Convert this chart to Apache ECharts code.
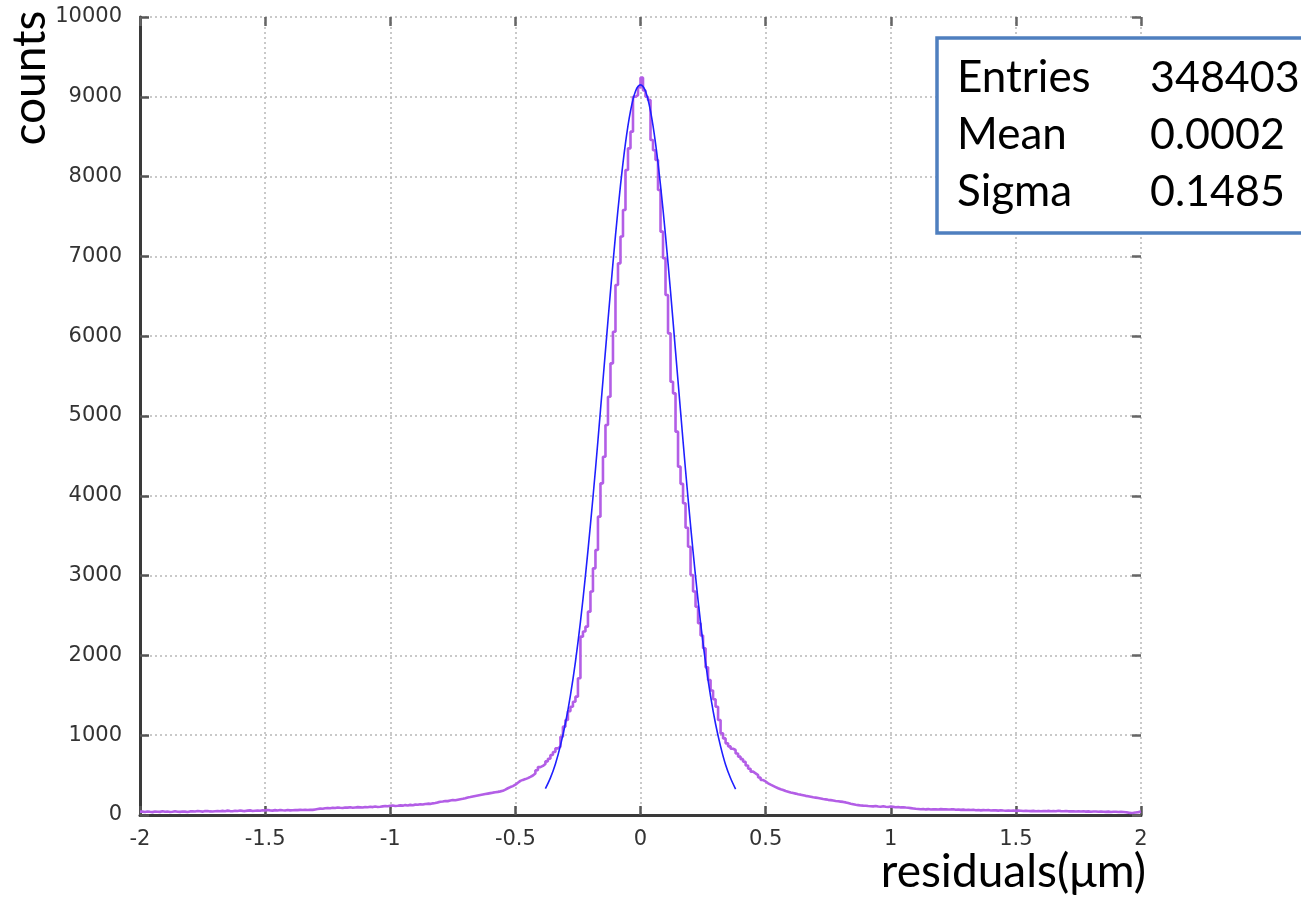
<!DOCTYPE html>
<html>
<head>
<meta charset="utf-8">
<script src="https://cdn.jsdelivr.net/npm/echarts@6/dist/echarts.min.js"></script>
<style>
  html, body { margin: 0; padding: 0; background: #fff; }
  #chart { width: 1301px; height: 900px; }
</style>
</head>
<body>
<div id="chart"></div>
<script>
// Histogram of track residuals: 400 bins of width 0.01 starting at -2
const binStart = -2;
const binWidth = 0.01;
const counts = [
  // -2.00 .. -1.91
  42, 38, 45, 40, 36, 44, 41, 39, 46, 40,
  // -1.90 .. -1.81
  43, 38, 41, 47, 40, 39, 44, 42, 37, 45,
  // -1.80 .. -1.71
  48, 44, 50, 46, 42, 49, 51, 45, 43, 47,
  // -1.70 .. -1.61
  50, 46, 52, 48, 55, 49, 47, 53, 51, 56,
  // -1.60 .. -1.51
  52, 49, 55, 58, 51, 54, 57, 53, 60, 56,
  // -1.50 .. -1.41
  62, 58, 55, 61, 57, 63, 59, 56, 62, 58,
  // -1.40 .. -1.31
  60, 63, 61, 64, 62, 65, 63, 66, 64, 70,
  // -1.30 .. -1.21
  75, 80, 78, 84, 88, 85, 91, 87, 93, 90,
  // -1.20 .. -1.11
  88, 94, 92, 97, 91, 95, 99, 96, 93, 100,
  // -1.10 .. -1.01
  98, 103, 99, 106, 101, 104, 108, 112, 109, 115,
  // -1.00 .. -0.91
  118, 112, 116, 121, 117, 124, 120, 127, 123, 130,
  // -0.90 .. -0.81
  128, 134, 131, 138, 142, 139, 146, 150, 158, 165,
  // -0.80 .. -0.71
  170, 176, 174, 181, 187, 185, 192, 198, 203, 210,
  // -0.70 .. -0.61
  220, 225, 232, 238, 244, 250, 256, 262, 268, 274,
  // -0.60 .. -0.51
  280, 285, 290, 296, 303, 318, 335, 350, 362, 380,
  // -0.50 .. -0.41
  405, 428, 440, 450, 462, 478, 495, 520, 560, 600,
  // -0.40 .. -0.31
  615, 640, 672, 705, 752, 790, 835, 856, 981, 1107,
  // -0.30 .. -0.21
  1190, 1300, 1357, 1420, 1483, 1713, 2235, 2300, 2360, 2548,
  // -0.20 .. -0.11
  2800, 3091, 3321, 3739, 4156, 4490, 4887, 5242, 5660, 6056,
  // -0.10 .. -0.01
  6642, 6913, 7250, 7581, 8083, 8354, 8563, 9000, 9020, 9120,
  // 0.00 .. 0.09
  9240, 9080, 9000, 8960, 8459, 8330, 8208, 7832, 7310, 6976,
  // 0.10 .. 0.19
  6516, 6036, 5430, 5284, 4804, 4365, 4150, 3906, 3600, 3362,
  // 0.20 .. 0.29
  3008, 2800, 2610, 2402, 2250, 2089, 1850, 1692, 1560, 1450,
  // 0.30 .. 0.39
  1357, 1190, 1023, 960, 898, 860, 830, 815, 770, 731,
  // 0.40 .. 0.49
  700, 668, 620, 580, 543, 522, 500, 470, 438, 420,
  // 0.50 .. 0.59
  397, 380, 365, 350, 335, 322, 313, 300, 292, 282,
  // 0.60 .. 0.69
  275, 268, 260, 255, 248, 240, 236, 229, 222, 218,
  // 0.70 .. 0.79
  212, 206, 200, 196, 190, 186, 181, 176, 172, 168,
  // 0.80 .. 0.89
  164, 158, 150, 142, 135, 128, 124, 120, 117, 115,
  // 0.90 .. 0.99
  112, 110, 108, 112, 106, 104, 109, 103, 100, 106,
  // 1.00 .. 1.09
  102, 98, 101, 95, 97, 93, 90, 86, 82, 78,
  // 1.10 .. 1.19
  76, 72, 75, 70, 74, 68, 73, 71, 69, 74,
  // 1.20 .. 1.29
  70, 72, 68, 70, 73, 66, 69, 64, 67, 63,
  // 1.30 .. 1.39
  66, 62, 65, 60, 63, 58, 61, 59, 62, 57,
  // 1.40 .. 1.49
  60, 58, 55, 59, 56, 54, 57, 53, 56, 52,
  // 1.50 .. 1.59
  55, 53, 50, 54, 51, 49, 52, 48, 51, 47,
  // 1.60 .. 1.69
  50, 48, 52, 47, 50, 46, 53, 49, 47, 51,
  // 1.70 .. 1.79
  46, 45, 48, 44, 47, 43, 46, 42, 45, 41,
  // 1.80 .. 1.89
  44, 43, 40, 44, 41, 39, 42, 38, 41, 40,
  // 1.90 .. 1.99
  37, 40, 38, 35, 30, 26, 28, 32, 36, 42
];

// Gaussian fit curve, sampled over the fit range
const fitX = [-0.38, -0.36, -0.34, -0.32, -0.30, -0.28, -0.26, -0.24, -0.22, -0.20,
              -0.18, -0.16, -0.14, -0.12, -0.10, -0.08, -0.06, -0.04, -0.02, 0,
              0.02, 0.04, 0.06, 0.08, 0.10, 0.12, 0.14, 0.16, 0.18, 0.20,
              0.22, 0.24, 0.26, 0.28, 0.30, 0.32, 0.34, 0.36, 0.38];
const fitY = [330, 465, 640, 870, 1150, 1500, 1920, 2420, 3000, 3640,
              4330, 5070, 5820, 6560, 7260, 7890, 8420, 8820, 9070, 9150,
              9070, 8820, 8420, 7890, 7260, 6560, 5810, 5060, 4320, 3630,
              2990, 2410, 1910, 1490, 1140, 860, 630, 460, 325];

// Statistics box rows
const statNames = ['Entries', 'Mean', 'Sigma'];
const statValues = ['348403', '0.0002', '0.1485'];

const xTicks = { min: -2, max: 2, interval: 0.5 };
const yTicks = { min: 0, max: 10000, interval: 1000 };

// Step-line points at the left edge of each bin, closed at the last right edge
const histData = counts.map((c, i) => [Math.round((binStart + i * binWidth) * 100) / 100, c]);
histData.push([Math.round((binStart + counts.length * binWidth) * 100) / 100, counts[counts.length - 1]]);
const fitData = fitX.map((x, i) => [x, fitY[i]]);

const chart = echarts.init(document.getElementById('chart'), null, { renderer: 'canvas' });

const labelFont = { fontFamily: 'DejaVu Sans', fontSize: 21, color: '#333' };
const gridLine = { show: true, lineStyle: { color: '#b8b8b8', type: [2, 3], width: 1.5 } };
const titleFont = 'Lato';
const plainNumber = v => String(v);

const statsGraphics = [];
statsGraphics.push({
  type: 'rect',
  shape: { x: 937, y: 38, width: 400, height: 195 },
  style: { fill: '#fff', stroke: '#4f7fbf', lineWidth: 3.5 },
  z: 100
});
statNames.forEach((n, i) => {
  statsGraphics.push({
    type: 'text', x: 957, y: 78 + i * 57, z: 101,
    style: { text: n, font: '44px ' + titleFont, fill: '#000', align: 'left', verticalAlign: 'middle' }
  });
  statsGraphics.push({
    type: 'text', x: 1150, y: 78 + i * 57, z: 101,
    style: { text: statValues[i], font: '43px ' + titleFont, fill: '#000', align: 'left', verticalAlign: 'middle' }
  });
});

const innerTicks = color => ({ show: true, inside: true, length: 9, lineStyle: { color: color, width: 2.5 } });

chart.setOption({
  animation: false,
  backgroundColor: '#fff',
  grid: { left: 140, right: 160, top: 17, bottom: 85 },
  xAxis: [
    {
      type: 'value', min: xTicks.min, max: xTicks.max, interval: xTicks.interval,
      axisLine: { show: true, onZero: false, lineStyle: { color: '#3a3a3a', width: 3 } },
      axisTick: innerTicks('#555'),
      axisLabel: Object.assign({ margin: 14, formatter: plainNumber }, labelFont),
      splitLine: gridLine
    },
    {
      type: 'value', position: 'top', min: xTicks.min, max: xTicks.max, interval: xTicks.interval,
      axisLine: { show: false, onZero: false },
      axisTick: innerTicks('#666'),
      axisLabel: { show: false },
      splitLine: { show: false }
    }
  ],
  yAxis: [
    {
      type: 'value', min: yTicks.min, max: yTicks.max, interval: yTicks.interval,
      axisLine: { show: true, onZero: false, lineStyle: { color: '#3a3a3a', width: 3 } },
      axisTick: innerTicks('#555'),
      axisLabel: Object.assign({ margin: 18, formatter: plainNumber }, labelFont),
      splitLine: gridLine
    },
    {
      type: 'value', position: 'right', min: yTicks.min, max: yTicks.max, interval: yTicks.interval,
      axisLine: { show: false, onZero: false },
      axisTick: innerTicks('#666'),
      axisLabel: { show: false },
      splitLine: { show: false }
    }
  ],
  series: [
    {
      name: 'residuals',
      type: 'line',
      step: 'end',
      data: histData,
      showSymbol: false,
      lineStyle: { color: '#b35ee6', width: 2.6 },
      z: 3
    },
    {
      name: 'fit',
      type: 'line',
      data: fitData,
      smooth: 0.35,
      showSymbol: false,
      lineStyle: { color: '#1f1fff', width: 1.6 },
      z: 4
    }
  ],
  graphic: [
    {
      type: 'text', x: 30, y: 78, rotation: Math.PI / 2, z: 100,
      style: { text: 'counts', font: '46px ' + titleFont, fill: '#000', align: 'center', verticalAlign: 'middle' }
    },
    {
      type: 'text', x: 1146, y: 872, z: 100,
      style: { text: 'residuals(μm)', font: '46px ' + titleFont, fill: '#000', align: 'right', verticalAlign: 'middle' }
    }
  ].concat(statsGraphics)
});
</script>
</body>
</html>
